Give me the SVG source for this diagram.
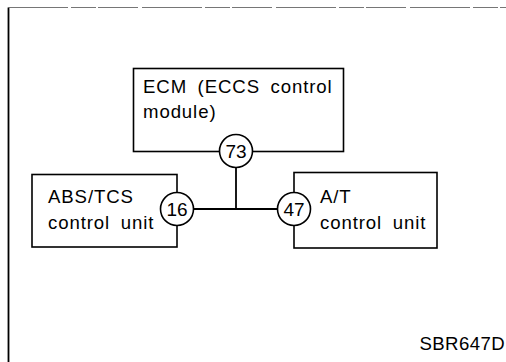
<svg xmlns="http://www.w3.org/2000/svg" width="506" height="362" viewBox="0 0 506 362">
<style>
.box{fill:none;stroke:#000;stroke-width:1.6}
.pin{fill:#fff;stroke:#000;stroke-width:1.6}
.wire{fill:none;stroke:#000;stroke-width:1.8}
text{font-family:"Liberation Sans",Arial,sans-serif;font-size:18.6px;fill:#000;letter-spacing:0.9px;word-spacing:4.5px}
.num{text-anchor:middle;font-size:19px;letter-spacing:0}
</style>
<rect width="506" height="362" fill="#fff"/>
<g id="frame">
<line x1="8.5" y1="7.5" x2="8.5" y2="362" stroke="#000" stroke-width="1.8"/>
<line x1="8" y1="7.5" x2="506" y2="7.5" stroke="#666" stroke-width="0.9" stroke-dasharray="60 3 25 2 40 4"/>
</g>
<g id="connectors">
<line class="wire" x1="236" y1="167" x2="236" y2="209"/>
<line class="wire" x1="193" y1="209" x2="278" y2="209"/>
</g>
<g id="ecm">
<rect class="box" x="133.5" y="68.5" width="210" height="83"/>
<text x="143" y="93">ECM (ECCS control</text>
<text x="143" y="118">module)</text>
<circle class="pin" cx="236" cy="151" r="16.5"/>
<text class="num" x="236" y="157.5">73</text>
</g>
<g id="abs">
<rect class="box" x="32" y="174.5" width="145" height="72.5"/>
<text x="48" y="203">ABS/TCS</text>
<text x="48" y="229">control unit</text>
<circle class="pin" cx="177" cy="209" r="16.5"/>
<text class="num" x="177" y="215.5">16</text>
</g>
<g id="at">
<rect class="box" x="294" y="172.5" width="143" height="75.5"/>
<text x="320" y="203">A/T</text>
<text x="320" y="229">control unit</text>
<circle class="pin" cx="294" cy="209" r="16.5"/>
<text class="num" x="294" y="215.5">47</text>
</g>
<text id="code" x="505" y="350" text-anchor="end" style="letter-spacing:0.4px">SBR647D</text>
</svg>
